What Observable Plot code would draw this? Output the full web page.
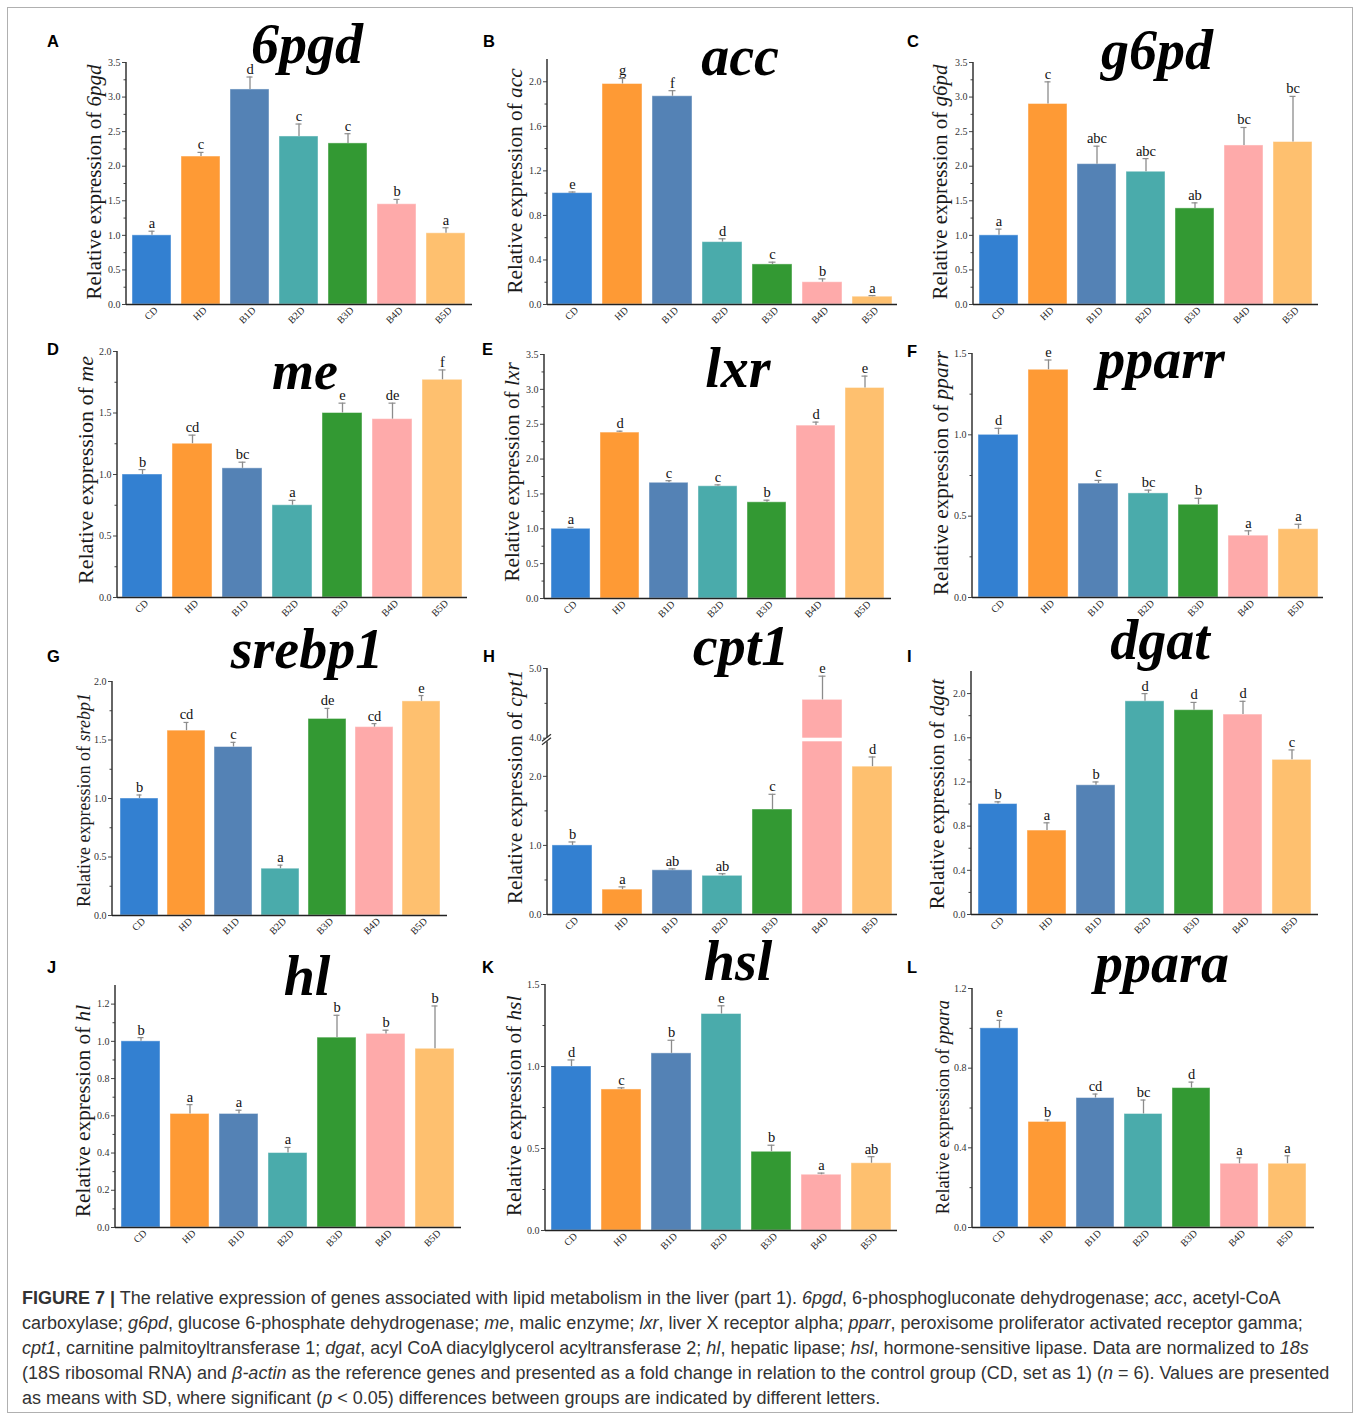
<!DOCTYPE html>
<html><head><meta charset="utf-8">
<script src="https://cdn.jsdelivr.net/npm/d3@7"></script>
<script src="https://cdn.jsdelivr.net/npm/@observablehq/plot@0.6"></script>
<style>
body{margin:0;background:#fff;}
#fig{position:relative;width:1360px;height:1419px;overflow:hidden;background:#fff;}
.panel{position:absolute;}
.panel svg{overflow:visible;}
#overlay{position:absolute;left:0;top:0;pointer-events:none;}
#frame{position:absolute;left:7px;top:7px;width:1344px;height:1404px;border:1px solid #b0b0b0;}
#caption{position:absolute;left:22px;top:1286px;font-family:"Liberation Sans",Arial,sans-serif;font-size:18px;line-height:25px;color:#333;white-space:nowrap;}
</style></head><body>
<div id="fig">
<div id="frame"></div>
<div id="caption">
<div><b>FIGURE 7 |</b> The relative expression of genes associated with lipid metabolism in the liver (part 1). <i>6pgd</i>, 6-phosphogluconate dehydrogenase; <i>acc</i>, acetyl-CoA</div>
<div>carboxylase; <i>g6pd</i>, glucose 6-phosphate dehydrogenase; <i>me</i>, malic enzyme; <i>lxr</i>, liver X receptor alpha; <i>pparr</i>, peroxisome proliferator activated receptor gamma;</div>
<div><i>cpt1</i>, carnitine palmitoyltransferase 1; <i>dgat</i>, acyl CoA diacylglycerol acyltransferase 2; <i>hl</i>, hepatic lipase; <i>hsl</i>, hormone-sensitive lipase. Data are normalized to <i>18s</i></div>
<div>(18S ribosomal RNA) and <i>β-actin</i> as the reference genes and presented as a fold change in relation to the control group (CD, set as 1) (<i>n</i> = 6). Values are presented</div>
<div>as means with SD, where significant (<i>p</i> &lt; 0.05) differences between groups are indicated by different letters.</div>
</div>
</div>
<script>
// ---------- DATA ----------
const groups = ["CD", "HD", "B1D", "B2D", "B3D", "B4D", "B5D"];
const groupColors = ["#3380d1", "#fe9a35", "#5482b5", "#4aabab", "#339933", "#feaaaa", "#fec06f"];
const genes = ["6pgd", "acc", "g6pd", "me", "lxr", "pparr", "srebp1", "cpt1", "dgat", "hl", "hsl", "ppara"];
const panelLetters = ["A", "B", "C", "D", "E", "F", "G", "H", "I", "J", "K", "L"];

const mean6pgd = [1.00, 2.14, 3.11, 2.43, 2.33, 1.45, 1.03];
const top6pgd  = [1.06, 2.20, 3.29, 2.61, 2.47, 1.52, 1.11];
const sig6pgd  = ["a", "c", "d", "c", "c", "b", "a"];

const meanAcc = [1.00, 1.98, 1.87, 0.56, 0.36, 0.20, 0.07];
const topAcc  = [1.01, 2.03, 1.92, 0.59, 0.38, 0.23, 0.08];
const sigAcc  = ["e", "g", "f", "d", "c", "b", "a"];

const meanG6pd = [1.00, 2.90, 2.03, 1.92, 1.39, 2.30, 2.35];
const topG6pd  = [1.09, 3.22, 2.29, 2.11, 1.47, 2.56, 3.01];
const sigG6pd  = ["a", "c", "abc", "abc", "ab", "bc", "bc"];

const meanMe = [1.00, 1.25, 1.05, 0.75, 1.50, 1.45, 1.77];
const topMe  = [1.04, 1.32, 1.10, 0.79, 1.58, 1.58, 1.85];
const sigMe  = ["b", "cd", "bc", "a", "e", "de", "f"];

const meanLxr = [1.00, 2.38, 1.66, 1.61, 1.38, 2.48, 3.02];
const topLxr  = [1.02, 2.40, 1.69, 1.63, 1.41, 2.53, 3.19];
const sigLxr  = ["a", "d", "c", "c", "b", "d", "e"];

const meanPparr = [1.00, 1.40, 0.70, 0.64, 0.57, 0.38, 0.42];
const topPparr  = [1.04, 1.46, 0.72, 0.66, 0.61, 0.41, 0.45];
const sigPparr  = ["d", "e", "c", "bc", "b", "a", "a"];

const meanSrebp1 = [1.00, 1.58, 1.44, 0.40, 1.68, 1.61, 1.83];
const topSrebp1  = [1.03, 1.65, 1.48, 0.43, 1.77, 1.64, 1.88];
const sigSrebp1  = ["b", "cd", "c", "a", "de", "cd", "e"];

const meanCpt1 = [1.00, 0.36, 0.64, 0.56, 1.52, 4.55, 2.14];
const topCpt1  = [1.05, 0.40, 0.66, 0.59, 1.74, 4.89, 2.28];
const sigCpt1  = ["b", "a", "ab", "ab", "c", "e", "d"];
const cpt1Break = [2.5, 4.0];

const meanDgat = [1.00, 0.76, 1.17, 1.93, 1.85, 1.81, 1.40];
const topDgat  = [1.02, 0.83, 1.20, 2.00, 1.92, 1.93, 1.49];
const sigDgat  = ["b", "a", "b", "d", "d", "d", "c"];

const meanHl = [1.00, 0.61, 0.61, 0.40, 1.02, 1.04, 0.96];
const topHl  = [1.02, 0.66, 0.63, 0.43, 1.14, 1.06, 1.19];
const sigHl  = ["b", "a", "a", "a", "b", "b", "b"];

const meanHsl = [1.00, 0.86, 1.08, 1.32, 0.48, 0.34, 0.41];
const topHsl  = [1.04, 0.87, 1.16, 1.37, 0.52, 0.35, 0.45];
const sigHsl  = ["d", "c", "b", "e", "b", "a", "ab"];

const meanPpara = [1.00, 0.53, 0.65, 0.57, 0.70, 0.32, 0.32];
const topPpara  = [1.04, 0.54, 0.67, 0.64, 0.73, 0.35, 0.36];
const sigPpara  = ["e", "b", "cd", "bc", "d", "a", "a"];

const yMax = [3.5, 2.2, 3.5, 2.0, 3.5, 1.5, 2.0, 5.0, 2.2, 1.3, 1.5, 1.2];
const majorTicks = [
  [0, 0.5, 1, 1.5, 2, 2.5, 3, 3.5], [0, 0.4, 0.8, 1.2, 1.6, 2.0], [0, 0.5, 1, 1.5, 2, 2.5, 3, 3.5],
  [0, 0.5, 1, 1.5, 2], [0, 0.5, 1, 1.5, 2, 2.5, 3, 3.5], [0, 0.5, 1, 1.5],
  [0, 0.5, 1, 1.5, 2], [0, 1, 2, 4, 5], [0, 0.4, 0.8, 1.2, 1.6, 2.0],
  [0, 0.2, 0.4, 0.6, 0.8, 1.0, 1.2], [0, 0.5, 1, 1.5], [0, 0.4, 0.8, 1.2]
];
const minorTicks = [
  [0.25, 0.75, 1.25, 1.75, 2.25, 2.75, 3.25], [0.2, 0.6, 1.0, 1.4, 1.8], [0.25, 0.75, 1.25, 1.75, 2.25, 2.75, 3.25],
  [0.25, 0.75, 1.25, 1.75], [0.25, 0.75, 1.25, 1.75, 2.25, 2.75, 3.25], [0.25, 0.75, 1.25],
  [0.25, 0.75, 1.25, 1.75], [0.5, 1.5, 4.5], [0.2, 0.6, 1.0, 1.4, 1.8],
  [0.1, 0.3, 0.5, 0.7, 0.9, 1.1], [0.25, 0.75, 1.25], [0.2, 0.6, 1.0]
];

const means = [mean6pgd, meanAcc, meanG6pd, meanMe, meanLxr, meanPparr, meanSrebp1, meanCpt1, meanDgat, meanHl, meanHsl, meanPpara];
const tops = [top6pgd, topAcc, topG6pd, topMe, topLxr, topPparr, topSrebp1, topCpt1, topDgat, topHl, topHsl, topPpara];
const sigs = [sig6pgd, sigAcc, sigG6pd, sigMe, sigLxr, sigPparr, sigSrebp1, sigCpt1, sigDgat, sigHl, sigHsl, sigPpara];

// ---------- LAYOUT (page pixels) ----------
const layout = [
  {left:20,  top:10,  w:460, h:320, x0:126, x1:472, yTop:62,  yBot:304, tx:307,  ty:63,  ts:56, lx:47,  ly:47,  yx:101, yy:182,  ys:21},
  {left:480, top:10,  w:420, h:320, x0:547, x1:897, yTop:59,  yBot:304, tx:740,  ty:75,  ts:56, lx:483, ly:47,  yx:522, yy:181,  ys:21.3},
  {left:900, top:10,  w:440, h:320, x0:973, x1:1318,yTop:62,  yBot:304, tx:1157, ty:69,  ts:56, lx:907, ly:47,  yx:947, yy:182,  ys:21},
  {left:20,  top:330, w:460, h:300, x0:117, x1:467, yTop:351, yBot:597, tx:305,  ty:389, ts:54, lx:47,  ly:355, yx:93,  yy:470,  ys:22},
  {left:480, top:330, w:420, h:300, x0:544, x1:891, yTop:354, yBot:598, tx:738,  ty:387, ts:56, lx:482, ly:355, yx:519, yy:472,  ys:21.3},
  {left:900, top:330, w:440, h:300, x0:972, x1:1323,yTop:353, yBot:597, tx:1161, ty:378, ts:56, lx:907, ly:357, yx:948, yy:473,  ys:21.3},
  {left:20,  top:630, w:460, h:310, x0:112, x1:447, yTop:681, yBot:915, tx:307,  ty:668, ts:56, lx:47,  ly:662, yx:90,  yy:800,  ys:18},
  {left:480, top:630, w:420, h:310, x0:547, x1:897, yTop:668, yBot:914, tx:741,  ty:665, ts:56, lx:483, ly:662, yx:522, yy:787,  ys:21.5},
  {left:900, top:630, w:440, h:310, x0:971, x1:1318,yTop:671, yBot:914, tx:1160, ty:659, ts:56, lx:907, ly:662, yx:944, yy:794,  ys:21},
  {left:20,  top:940, w:460, h:320, x0:115, x1:461, yTop:985, yBot:1227,tx:307,  ty:995, ts:56, lx:47,  ly:973, yx:90,  yy:1111, ys:21.3},
  {left:480, top:940, w:420, h:320, x0:545, x1:897, yTop:984, yBot:1230,tx:738,  ty:980, ts:56, lx:482, ly:973, yx:521, yy:1106, ys:21.3},
  {left:900, top:940, w:440, h:320, x0:972, x1:1314,yTop:988, yBot:1227,tx:1162, ty:982, ts:56, lx:907, ly:973, yx:949, yy:1107, ys:18.5}
];
const cpt1BreakPx = [741.3, 737.7]; // page y of the axis break edges

const fig = d3.select("#fig");
const serif = "'Liberation Serif','Times New Roman',serif";

genes.forEach((gene, i) => {
  const L = layout[i];
  const data = groups.map((g, j) => ({g, v: means[i][j], e: tops[i][j], s: sigs[i][j]}));
  const mL = L.x0 - L.left, mR = L.left + L.w - L.x1, mT = L.yTop - L.top, mB = L.top + L.h - L.yBot;
  const isBreak = gene === "cpt1";
  const yScale = isBreak
    ? {type: "linear", domain: [0, cpt1Break[0], cpt1Break[1], yMax[i]],
       range: [L.h - mB, cpt1BreakPx[0] - L.top, cpt1BreakPx[1] - L.top, mT], axis: null}
    : {domain: [0, yMax[i]], axis: null};
  const marks = [
    Plot.barY(data, {x: "g", y: "v", fill: "g", stroke: "white", strokeOpacity: 0.45, strokeWidth: 1}),
  ];
  if (isBreak) {
    marks.push(Plot.rect([{a: cpt1Break[0], b: cpt1Break[1]}], {y1: "a", y2: "b", fill: "white"}));
  }
  marks.push(
    Plot.ruleX(data, {x: "g", y1: "v", y2: "e", stroke: "#8c8c8c", strokeWidth: 1.3}),
    Plot.tickY(data, {x: "g", y: "e", stroke: "#8c8c8c", strokeWidth: 1.2, insetLeft: 16.5, insetRight: 16.5}),
    Plot.text(data, {x: "g", y: "e", text: "s", dy: -3, lineAnchor: "bottom", fontSize: 14.5, fill: "#111"}),
    Plot.axisY({ticks: majorTicks[i], tickFormat: ".1f", tickSize: 4, tickPadding: 2, fontSize: 10, stroke: "#444", fill: "#333"}),
    Plot.axisY({ticks: minorTicks[i], tickFormat: () => "", tickSize: 2.5, stroke: "#444"}),
    Plot.axisX({tickRotate: -45, tickSize: 0, tickPadding: 4, dx: 4, fontSize: 10, fill: "#222", label: null}),
    Plot.ruleY([0], {stroke: "#222", strokeWidth: 1.5})
  );
  const plot = Plot.plot({
    width: L.w, height: L.h,
    marginLeft: mL, marginRight: mR, marginTop: mT, marginBottom: mB,
    x: {domain: groups, paddingInner: 0.2, paddingOuter: 0.1, axis: null},
    y: yScale,
    color: {domain: groups, range: groupColors},
    style: {fontFamily: serif, background: "transparent", overflow: "visible"},
    marks
  });
  const holder = fig.append("div").attr("class", "panel")
    .style("left", L.left + "px").style("top", L.top + "px");
  holder.node().appendChild(plot);
  const sy = plot.scale("y"), sx = plot.scale("x");
  const svg = d3.select(plot);
  const yb = sy.apply(0), yt = sy.apply(yMax[i]);
  const xl = sx.range[0];
  svg.append("line").attr("x1", xl).attr("x2", xl).attr("y1", yb).attr("y2", yt)
    .attr("stroke", "#333").attr("stroke-width", 1.5);
  if (isBreak) {
    const ya = sy.apply(cpt1Break[0]), yc = sy.apply(cpt1Break[1]);
    svg.append("rect").attr("x", xl - 2).attr("y", yc).attr("width", 4).attr("height", ya - yc).attr("fill", "white");
    [ya, yc].forEach(yy => {
      svg.append("line").attr("x1", xl - 5).attr("x2", xl + 4).attr("y1", yy + 3.5).attr("y2", yy - 3.5)
        .attr("stroke", "#333").attr("stroke-width", 1.2);
    });
  }
});

// ---------- overlay: titles, panel letters, y labels ----------
const ov = fig.append("svg").attr("id", "overlay").attr("width", 1360).attr("height", 1419);
genes.forEach((gene, i) => {
  const L = layout[i];
  ov.append("text").attr("x", L.tx).attr("y", L.ty).attr("text-anchor", "middle")
    .attr("font-family", serif).attr("font-weight", "bold").attr("font-style", "italic")
    .attr("font-size", L.ts).attr("fill", "#000").text(gene);
  ov.append("text").attr("x", L.lx).attr("y", L.ly)
    .attr("font-family", "'Liberation Sans',Arial,sans-serif").attr("font-weight", "bold")
    .attr("font-size", 16.5).attr("fill", "#000").text(panelLetters[i]);
  const t = ov.append("text").attr("transform", `translate(${L.yx},${L.yy}) rotate(-90)`)
    .attr("text-anchor", "middle").attr("font-family", serif).attr("font-size", L.ys).attr("fill", "#1a1a1a");
  t.append("tspan").text("Relative expression of ");
  t.append("tspan").attr("font-style", "italic").text(gene);
});
</script>
</body></html>
